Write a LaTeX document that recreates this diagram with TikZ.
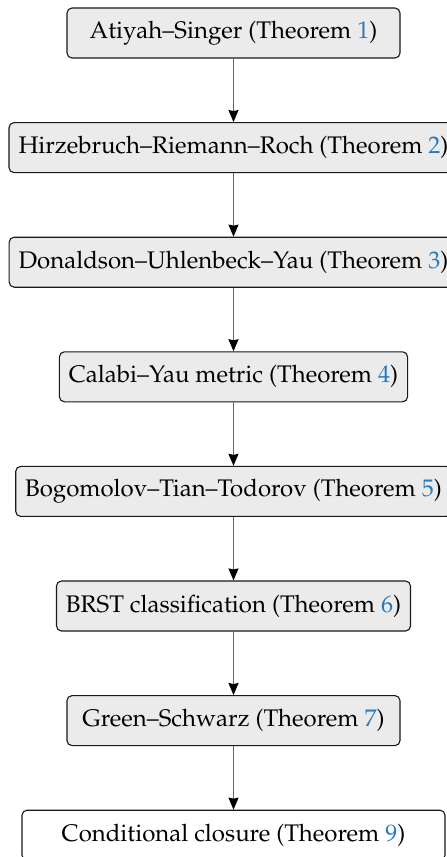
\documentclass[tikz,border=0pt]{standalone}
\usepackage[T1]{fontenc}
\usepackage{mathpazo}
\usetikzlibrary{arrows.meta}
\definecolor{refblue}{RGB}{38,122,190}
\newcommand{\thmref}[1]{(Theorem~\textcolor{refblue}{#1})}
\tikzset{
  thmbox/.style={draw=black!90,fill=black!8,rounded corners=2.5pt,line width=0.55pt,
    minimum width=166.5pt,minimum height=25pt,inner xsep=4.75pt,font=\fontsize{12}{14}\selectfont},
  endbox/.style={thmbox,fill=white,minimum width=211.5pt},
  implies/.style={draw=black!60,line width=0.75pt,-{Stealth[length=6pt,width=5pt,inset=0.5pt,black]}}
}
\begin{document}
\begin{tikzpicture}[x=1pt,y=1pt]
\useasboundingbox (0,0) rectangle (223,-428.5);
\node[thmbox] (as) at (116.75,-16.5) {Atiyah--Singer \thmref{1}};
\node[thmbox] (hrr) at (116.75,-73.8) {Hirzebruch--Riemann--Roch \thmref{2}};
\node[thmbox] (duy) at (116.75,-131.1) {Donaldson--Uhlenbeck--Yau \thmref{3}};
\node[thmbox] (cy) at (116.75,-188.4) {Calabi--Yau metric \thmref{4}};
\node[thmbox] (btt) at (116.75,-245.7) {Bogomolov--Tian--Todorov \thmref{5}};
\node[thmbox] (brst) at (116.75,-303.0) {BRST classification \thmref{6}};
\node[thmbox] (gs) at (116.75,-360.3) {Green--Schwarz \thmref{7}};
\node[endbox] (cc) at (116.75,-417.6) {Conditional closure \thmref{9}};
\draw[implies] (as) -- (hrr);
\draw[implies] (hrr) -- (duy);
\draw[implies] (duy) -- (cy);
\draw[implies] (cy) -- (btt);
\draw[implies] (btt) -- (brst);
\draw[implies] (brst) -- (gs);
\draw[implies] (gs) -- (cc);
\end{tikzpicture}
\end{document}
